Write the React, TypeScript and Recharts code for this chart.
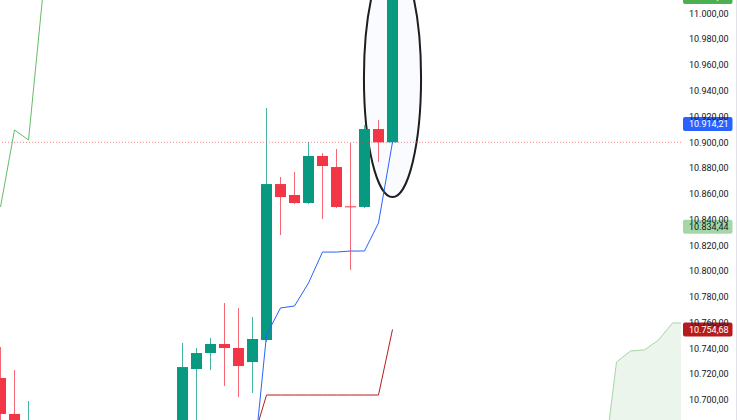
import React from 'react';
import {
  ComposedChart,
  Bar,
  Line,
  Area,
  XAxis,
  YAxis,
  ReferenceLine,
  ReferenceArea,
} from 'recharts';

// ---- data ----
const candleIndex = [0, 1, 2, 13, 14, 15, 16, 17, 18, 19, 20, 21, 22, 23, 24, 25, 26, 27, 28];
const opens = [10717.0, 10689.1, 10662, 10668, 10724.0, 10736.4, 10743.4, 10740.3, 10729.4, 10746.5, 10867.6, 10859.1, 10852.9, 10889.4, 10880.8, 10850.3, 10849.8, 10910.3, 10900.0];
const highs = [10741.1, 10723.2, 10699.2, 10744.2, 10740.3, 10748.1, 10775.2, 10771.4, 10764.4, 10926.6, 10873.1, 10877.0, 10900.2, 10891.7, 10894.8, 10899.5, 10913.4, 10917.3, 11012.8];
const lows = [10672, 10665, 10655, 10660, 10678, 10723.2, 10710.8, 10702.3, 10705.4, 10745.0, 10828.0, 10852.0, 10852.0, 10840.5, 10849.0, 10800.9, 10849.0, 10884.7, 10899.0];
const closes = [10689.1, 10678, 10681, 10725.5, 10736.4, 10743.4, 10740.3, 10726.3, 10747.3, 10867.6, 10857.5, 10852.9, 10889.4, 10881.6, 10849.8, 10849.8, 10910.3, 10900.0, 11012.8];

const conversionIndex = [18, 19, 20, 21, 22, 23, 24, 25, 26, 27, 28];
const conversionLine = [10641.6, 10750.4, 10771.4, 10772.9, 10790.8, 10814.8, 10814.8, 10815.6, 10815.6, 10837.4, 10900.2];

const baseIndex = [18, 19, 20, 21, 22, 23, 24, 25, 26, 27, 28];
const baseLine = [10667.3, 10703.8, 10703.8, 10703.8, 10703.8, 10703.8, 10703.8, 10703.8, 10703.8, 10703.8, 10754.68];

const laggingIndex = [0, 1, 2, 3];
const laggingSpan = [10849.8, 10909.6, 10901.8, 11012];

const cloudIndex = [43, 44, 45, 46, 47, 48, 49];
const leadA = [10641.7, 10729.4, 10738.0, 10738.8, 10746.5, 10759.7, 10759.7];
const leadB = [10610, 10612, 10615, 10615, 10620, 10622, 10622];

const yTicks = [10700, 10720, 10740, 10760, 10780, 10800, 10820, 10840, 10860, 10880, 10900, 10920, 10940, 10960, 10980, 11000];
const prevClose = 10900.0;
const priceTags = [
  { value: 11012.8, text: '11.012,80', bg: '#4caf50', fg: '#ffffff' },
  { value: 10914.21, text: '10.914,21', bg: '#2962ff', fg: '#ffffff' },
  { value: 10834.44, text: '10.834,44', bg: '#a5d6a7', fg: '#131722' },
  { value: 10754.68, text: '10.754,68', bg: '#b71c1c', fg: '#ffffff' },
];
const ellipseBox = { x1: 25.96, x2: 30.04, y1: 10857.5, y2: 11042.3 };

const SLOTS = 50;
const UP = '#089981';
const DOWN = '#f23645';
const FONT = 'Roboto, "Noto Sans", sans-serif';
const FS = 9;

// build chart rows
const rows: any[] = [];
for (let k = 0; k < SLOTS; k++) rows.push({ k });
candleIndex.forEach((k, i) => {
  rows[k].o = opens[i];
  rows[k].h = highs[i];
  rows[k].l = lows[i];
  rows[k].c = closes[i];
  rows[k].range = [lows[i], highs[i]];
});
conversionIndex.forEach((k, i) => (rows[k].conv = conversionLine[i]));
baseIndex.forEach((k, i) => (rows[k].base = baseLine[i]));
laggingIndex.forEach((k, i) => (rows[k].lag = laggingSpan[i]));
cloudIndex.forEach((k, i) => (rows[k].cloud = [leadB[i], leadA[i]]));

const fmt = (v: number) => {
  const [i, d] = v.toFixed(2).split('.');
  return i.replace(/\B(?=(\d{3})+(?!\d))/g, '.') + ',' + d;
};

const Candle = (props: any) => {
  const { x, y, width, height, payload } = props;
  if (!payload || payload.o == null || !isFinite(y) || !isFinite(height) || height <= 0) return null;
  const { o, h, l, c } = payload;
  const ppu = height / (h - l);
  const yOf = (v: number) => y + (h - v) * ppu;
  const cx = Math.floor(x + width / 2) + 0.5;
  const color = c >= o ? UP : DOWN;
  const top = yOf(Math.max(o, c));
  const bot = yOf(Math.min(o, c));
  const bw = 11;
  return (
    <g>
      <line x1={cx} x2={cx} y1={y} y2={y + height} stroke={color} strokeWidth={1} strokeOpacity={0.75} />
      <rect x={cx - bw / 2} y={top} width={bw} height={Math.max(bot - top, 1)} fill={color} />
    </g>
  );
};

const makeTag = (text: string, bg: string, fg: string) => (props: any) => {
  const vb = props.viewBox || {};
  const x = (vb.x ?? 0) + (vb.width ?? 0) + 2;
  const y = vb.y ?? 0;
  return (
    <g>
      <rect x={x} y={y - 7} width={49.5} height={14} rx={2} fill={bg} />
      <text x={x + 6} y={y} dy="0.355em" fill={fg} fontSize={FS} fontFamily={FONT}>
        {text}
      </text>
    </g>
  );
};

const EllipseShape = (props: any) => {
  const { x, y, width, height } = props;
  return (
    <ellipse
      cx={x + width / 2}
      cy={y + height / 2}
      rx={Math.abs(width) / 2}
      ry={Math.abs(height) / 2}
      fill="rgba(41,98,255,0.025)"
      stroke="#1e1e1e"
      strokeWidth={2}
    />
  );
};

export default function App() {
  return (
    <div style={{ position: 'absolute', left: 0, top: 0, width: 740, height: 420, background: '#fff', fontFamily: FONT }}>
      <ComposedChart width={740} height={420} data={rows} margin={{ top: 0, right: 0, bottom: 0, left: 0 }}>
        <XAxis dataKey="k" type="number" hide domain={[-0.5 / 14, 680.5 / 14]} allowDataOverflow />
        <YAxis
          orientation="right"
          width={59}
          domain={[10684.4, 11010.5]}
          allowDataOverflow
          ticks={yTicks}
          interval={0}
          tickFormatter={fmt}
          axisLine={false}
          tickLine={false}
          tick={{ fontSize: FS, fill: '#131722', fontFamily: FONT }}
        />
        <Area
          dataKey="cloud"
          type="linear"
          stroke="#a5d6a7"
          strokeWidth={1}
          fill="rgba(67,160,71,0.1)"
          fillOpacity={1}
          isAnimationActive={false}
          dot={false}
          activeDot={false}
        />
        <ReferenceLine y={prevClose} stroke="#f23645" strokeOpacity={0.6} strokeDasharray="1 2" ifOverflow="visible" />
        <ReferenceArea
          x1={ellipseBox.x1}
          x2={ellipseBox.x2}
          y1={ellipseBox.y1}
          y2={ellipseBox.y2}
          ifOverflow="visible"
          shape={EllipseShape}
        />
        <Bar dataKey="range" barSize={11} shape={Candle} isAnimationActive={false} />
        <Line dataKey="lag" type="linear" stroke="#66bb6a" strokeWidth={1} dot={false} activeDot={false} isAnimationActive={false} />
        <Line dataKey="conv" type="linear" stroke="#2962ff" strokeWidth={1} dot={false} activeDot={false} isAnimationActive={false} />
        <Line dataKey="base" type="linear" stroke="#b71c1c" strokeWidth={1} dot={false} activeDot={false} isAnimationActive={false} />
        {priceTags.map((t) => (
          <ReferenceLine
            key={t.text}
            y={t.value}
            stroke="none"
            ifOverflow="visible"
            label={makeTag(t.text, t.bg, t.fg)}
          />
        ))}
      </ComposedChart>
      <div style={{ position: 'absolute', left: 736, top: 0, width: 1, height: 420, background: '#e0e3eb' }} />
    </div>
  );
}
